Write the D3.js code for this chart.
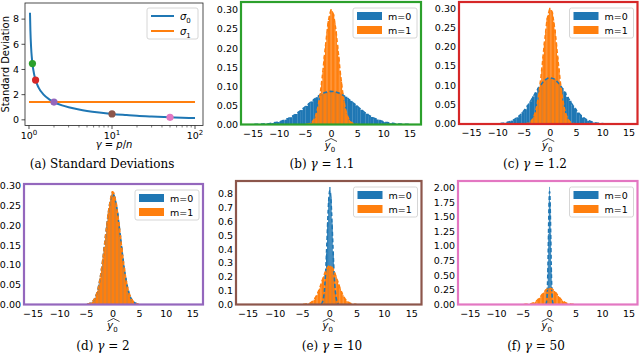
<!DOCTYPE html>
<html>
<head>
<meta charset="utf-8">
<script src="https://cdn.jsdelivr.net/npm/d3@7"></script>
<style>
	body { margin: 0; background: #fff; }
	svg { display: block; }
	text { font-family: "DejaVu Sans", sans-serif; fill: #000; }
	.cap { font-family: "DejaVu Serif", serif; font-size: 12px; }
</style>
</head>
<body>
<svg width="640" height="354"></svg>
<script>
// panel (a): standard deviations vs gamma
const gammaCurve = [1.028, 1.04, 1.06, 1.08, 1.1, 1.15, 1.2, 1.3, 1.5, 1.75, 2, 2.5, 3, 4, 5, 7, 10, 15, 20, 30, 50, 70, 100]
const sigma0Curve = [8.5, 7.07, 5.77, 5.0, 4.47, 3.65, 3.16, 2.58, 2.0, 1.63, 1.41, 1.15, 1.0, 0.82, 0.71, 0.58, 0.47, 0.38, 0.32, 0.26, 0.20, 0.17, 0.14]
const sigma1Range = [1, 100]
const sigma1 = 1.41
const markerGamma = [1.1, 1.2, 2, 10, 50]
const markerSigma = [4.47, 3.16, 1.41, 0.47, 0.20]
const xTicksA = [1, 10, 100]
const yTicksA = [0, 2, 4, 6, 8]

// histogram bins: [first edge, bin width]
const binsWide = [-15, 0.5]
const binsMid = [-11, 0.5]
const binsNarrow = [-5, 0.25]
const binsSpikeE = [-1.7, 0.2]
const binsSpikeF = [-0.75, 0.1]

// (b) gamma = 1.1
const histB0 = [0.0003,0.0005,0.0009,0.0011,0.0016,0.0021,0.0027,0.0038,0.0047,0.0065,0.0079,0.0104,0.0126,0.0162,0.0191,0.0238,0.0275,0.0331,0.0378,0.0441,0.0489,0.0558,0.0606,0.0671,0.0716,0.0772,0.0801,0.0842,0.0851,0.0874,
	0.0863,0.0861,0.0829,0.0811,0.0760,0.0728,0.0661,0.0618,0.0547,0.0502,0.0431,0.0386,0.0322,0.0283,0.0229,0.0197,0.0155,0.0131,0.0099,0.0083,0.0061,0.0049,0.0035,0.0029,0.0019,0.0016,0.0010,0.0007,0.0005,0.0003]
const histB1 = [0.0004,0.0006,0.0014,0.0024,0.0045,0.0071,0.0124,0.0186,0.0297,0.0424,0.0618,0.0829,0.1125,0.1398,0.1785,0.2074,0.2398,0.2712,0.2851,0.3020,
	0.2968,0.2893,0.2664,0.2447,0.2081,0.1779,0.1403,0.1128,0.0826,0.0622,0.0421,0.0296,0.0184,0.0125,0.0069,0.0045,0.0023,0.0014,0.0006,0.0004]
// (c) gamma = 1.2
const histC0 = [0.0003,0.0007,0.0009,0.0018,0.0025,0.0042,0.0058,0.0089,0.0119,0.0174,0.0226,0.0308,0.0381,0.0493,0.0588,0.0716,0.0815,0.0941,0.1018,0.1124,0.1159,0.1208,
	0.1185,0.1172,0.1101,0.1039,0.0925,0.0831,0.0700,0.0601,0.0479,0.0395,0.0297,0.0234,0.0166,0.0127,0.0084,0.0062,0.0038,0.0027,0.0016,0.0011,0.0005,0.0004]
const histC1 = [0.0003,0.0007,0.0012,0.0026,0.0041,0.0076,0.0119,0.0193,0.0289,0.0433,0.0604,0.0846,0.1097,0.1421,0.1752,0.2113,0.2381,0.2736,0.2829,0.3010,
	0.2952,0.2908,0.2651,0.2438,0.2114,0.1741,0.1437,0.1095,0.0851,0.0603,0.0437,0.0284,0.0193,0.0117,0.0075,0.0041,0.0026,0.0012,0.0007,0.0003]
// (d) gamma = 2
const histD0 = [0.0006,0.0014,0.0022,0.0042,0.0064,0.0108,0.0157,0.0245,0.0344,0.0507,0.0672,0.0918,0.1147,0.1462,0.1738,0.2052,0.2297,0.2551,0.2686,0.2812,
	0.2774,0.2712,0.2528,0.2327,0.2026,0.1764,0.1438,0.1172,0.0903,0.0689,0.0494,0.0353,0.0236,0.0162,0.0102,0.0068,0.0039,0.0024,0.0012,0.0007]
const histD1 = [0.0007,0.0012,0.0024,0.0039,0.0068,0.0103,0.0163,0.0238,0.0352,0.0498,0.0685,0.0904,0.1171,0.1441,0.1768,0.2021,0.2334,0.2527,0.2738,0.2871,
	0.2835,0.2689,0.2563,0.2298,0.2051,0.1739,0.1462,0.1149,0.0918,0.0672,0.0507,0.0341,0.0247,0.0157,0.0108,0.0063,0.0041,0.0022,0.0014,0.0006]
// (e) gamma = 10
const histE0 = [0.0028,0.0097,0.0342,0.0861,0.2034,0.3718,0.5967,0.7702,0.8507,0.7811,0.5874,0.3795,0.1968,0.0893,0.0324,0.0104,0.0025]
const histE1 = [0.0006,0.0013,0.0024,0.0038,0.0067,0.0104,0.0161,0.0241,0.0347,0.0503,0.0681,0.0912,0.1158,0.1449,0.1756,0.2036,0.2318,0.2537,0.2719,0.2788,
	0.2802,0.2687,0.2551,0.2304,0.2047,0.1738,0.1459,0.1153,0.0917,0.0676,0.0503,0.0346,0.0242,0.0158,0.0106,0.0065,0.0041,0.0022,0.0013,0.0007]
// (f) gamma = 50
const histF0 = [0.0045,0.0214,0.0893,0.2671,0.6543,1.2078,1.7712,2.0130,1.7584,1.2195,0.6437,0.2748,0.0871,0.0226,0.0042]
const histF1 = [0.0007,0.0012,0.0023,0.0041,0.0065,0.0107,0.0158,0.0244,0.0339,0.0511,0.0674,0.0921,0.1142,0.1457,0.1749,0.2041,0.2306,0.2548,0.2703,0.2812,
	0.2781,0.2706,0.2539,0.2318,0.2033,0.1752,0.1444,0.1167,0.0905,0.0681,0.0497,0.0352,0.0238,0.0163,0.0104,0.0067,0.0039,0.0024,0.0012,0.0006]

const xTicksHist = [-15, -10, -5, 0, 5, 10, 15]
const yTicksSmall = [0, 0.05, 0.10, 0.15, 0.20, 0.25, 0.30]
const yTicksE = [0, 0.1, 0.2, 0.3, 0.4, 0.5, 0.6, 0.7, 0.8]
const yTicksF = [0, 0.25, 0.5, 0.75, 1.0, 1.25, 1.5, 1.75, 2.0]
const legendLabels = ['m=0', 'm=1']

const C0 = '#1f77b4', C1 = '#ff7f0e'
const dotColors = ['#2ca02c', '#d62728', '#9467bd', '#8c564b', '#e377c2']

const svg = d3.select('svg')

// ---------- panel (a) ----------
{
	const L = 25, T = 3, R = 203, B = 125.5
	const x = d3.scaleLog().domain([0.895, 124.8]).range([L, R])
	const y = d3.scaleLinear().domain([-0.45, 9.28]).range([B, T])
	const g = svg.append('g')

	const clip = g.append('clipPath').attr('id', 'clipA')
	clip.append('rect').attr('x', L).attr('y', T).attr('width', R - L).attr('height', B - T)
	const plot = g.append('g').attr('clip-path', 'url(#clipA)')

	plot.append('path')
		.datum(gammaCurve.map((d, i) => [d, sigma0Curve[i]]))
		.attr('fill', 'none').attr('stroke', C0).attr('stroke-width', 2)
		.attr('d', d3.line().x(d => x(d[0])).y(d => y(d[1])).curve(d3.curveMonotoneX))
	plot.append('line')
		.attr('x1', x(sigma1Range[0])).attr('x2', x(sigma1Range[1]))
		.attr('y1', y(sigma1)).attr('y2', y(sigma1))
		.attr('stroke', C1).attr('stroke-width', 2)
	plot.selectAll('circle').data(markerGamma).join('circle')
		.attr('cx', d => x(d)).attr('cy', (d, i) => y(markerSigma[i]))
		.attr('r', 3.6).attr('fill', (d, i) => dotColors[i])

	g.append('rect').attr('x', L).attr('y', T).attr('width', R - L).attr('height', B - T)
		.attr('fill', 'none').attr('stroke', '#222').attr('stroke-width', 0.8)

	// ticks
	const minor = []
	for (const dec of [1, 10]) for (let k = 2; k < 10; k++) minor.push(k * dec)
	g.selectAll('.mn').data(minor).join('line')
		.attr('x1', d => x(d)).attr('x2', d => x(d)).attr('y1', B).attr('y2', B + 2)
		.attr('stroke', '#222').attr('stroke-width', 0.6)
	const xt = g.selectAll('.xt').data(xTicksA).join('g')
		.attr('transform', d => `translate(${x(d)},${B})`)
	xt.append('line').attr('y2', 3.5).attr('stroke', '#222').attr('stroke-width', 0.8)
	const xtl = xt.append('text').attr('y', 13).attr('text-anchor', 'middle').style('font-size', '9.5px')
	xtl.append('tspan').text('10')
	xtl.append('tspan').attr('dy', -4).style('font-size', '7px').text(d => Math.log10(d))

	const yt = g.selectAll('.yt').data(yTicksA).join('g')
		.attr('transform', d => `translate(${L},${y(d)})`)
	yt.append('line').attr('x2', -3.5).attr('stroke', '#222').attr('stroke-width', 0.8)
	yt.append('text').attr('x', -6).attr('dy', '0.35em').attr('text-anchor', 'end')
		.style('font-size', '9.5px').text(d => d)

	g.append('text').attr('transform', `translate(9,${(T + B) / 2}) rotate(-90)`)
		.attr('text-anchor', 'middle').style('font-size', '10px').text('Standard Deviation')
	const xl = g.append('text').attr('x', (L + R) / 2).attr('y', 148).attr('text-anchor', 'middle').style('font-size', '10px')
	xl.append('tspan').style('font-style', 'italic').text('γ')
	xl.append('tspan').text(' = ')
	xl.append('tspan').style('font-style', 'italic').text('p')
	xl.append('tspan').text('/')
	xl.append('tspan').style('font-style', 'italic').text('n')

	// legend
	const lg = g.append('g').attr('transform', `translate(${R - 56},${T + 5})`)
	lg.append('rect').attr('width', 51).attr('height', 31).attr('rx', 2)
		.attr('fill', '#fff').attr('fill-opacity', 0.8).attr('stroke', '#ccc').attr('stroke-width', 0.8)
	;[C0, C1].forEach((c, i) => {
		lg.append('line').attr('x1', 4).attr('x2', 27).attr('y1', 8 + i * 15).attr('y2', 8 + i * 15)
			.attr('stroke', c).attr('stroke-width', 2)
		const t = lg.append('text').attr('x', 33).attr('y', 12 + i * 15).style('font-size', '10px')
		t.append('tspan').style('font-style', 'italic').text('σ')
		t.append('tspan').attr('dy', 2.5).style('font-size', '7px').text(i)
	})

	const cap = g.append('text').attr('class', 'cap').attr('x', 102).attr('y', 168).attr('text-anchor', 'middle')
	cap.text('(a) Standard Deviations')
}

// ---------- histogram panels ----------
const panels = [
	{ key: 'b', frame: [241, 2, 421, 124.5], xd: [-17.3, 17.1], ymax: 0.321, yticks: yTicksSmall, fmt: '.2f', color: dotColors[0], gamma: '1.1',
		capX: 322, capY: 168, labY: 149, series: [[histB0, binsWide], [histB1, binsNarrow]] },
	{ key: 'c', frame: [459, 2, 637.5, 124], xd: [-17.4, 16.6], ymax: 0.316, yticks: yTicksSmall, fmt: '.2f', color: dotColors[1], gamma: '1.2',
		capX: 535, capY: 168, labY: 149, series: [[histC0, binsMid], [histC1, binsNarrow]] },
	{ key: 'd', frame: [24, 184, 203, 304.5], xd: [-16.7, 16.9], ymax: 0.305, yticks: yTicksSmall, fmt: '.2f', color: dotColors[2], gamma: '2',
		capX: 103, capY: 350, labY: 329, series: [[histD0, binsNarrow], [histD1, binsNarrow]] },
	{ key: 'e', frame: [236, 181, 421.5, 304.5], xd: [-17.2, 16.8], ymax: 0.894, yticks: yTicksE, fmt: '.1f', color: dotColors[3], gamma: '10',
		capX: 332, capY: 350, labY: 329, series: [[histE0, binsSpikeE], [histE1, binsNarrow]] },
	{ key: 'f', frame: [458, 181, 637.5, 304.5], xd: [-17.3, 16.6], ymax: 2.114, yticks: yTicksF, fmt: '.2f', color: dotColors[4], gamma: '50',
		capX: 536, capY: 350, labY: 329, series: [[histF0, binsSpikeF], [histF1, binsNarrow]] }
]

panels.forEach(p => {
	const [L, T, R, B] = p.frame
	const x = d3.scaleLinear().domain(p.xd).range([L, R])
	const y = d3.scaleLinear().domain([0, p.ymax]).range([B, T])
	const g = svg.append('g')
	g.append('clipPath').attr('id', 'clip' + p.key)
		.append('rect').attr('x', L).attr('y', T).attr('width', R - L).attr('height', B - T)
	const plot = g.append('g').attr('clip-path', `url(#clip${p.key})`)

	const cols = [C0, C1]
	// bars, m=0 first then m=1 on top
	p.series.forEach(([vals, [x0, w]], si) => {
		plot.append('g').selectAll('rect').data(vals).join('rect')
			.attr('x', (d, i) => x(x0 + i * w))
			.attr('width', (d, i) => x(x0 + (i + 1) * w) - x(x0 + i * w) + 0.15)
			.attr('y', d => y(d))
			.attr('height', d => B - y(d))
			.attr('fill', cols[si])
	})
	// dashed density curves
	const line = d3.line().x(d => x(d[0])).y(d => y(d[1])).curve(d3.curveBasis)
	p.series.forEach(([vals, [x0, w]], si) => {
		const pts = vals.map((v, i) => [x0 + (i + 0.5) * w, v])
		plot.append('path').datum(pts)
			.attr('fill', 'none').attr('stroke', cols[si]).attr('stroke-width', 1.6)
			.attr('stroke-dasharray', '4,2.5').attr('d', line)
	})

	g.append('rect').attr('x', L).attr('y', T).attr('width', R - L).attr('height', B - T)
		.attr('fill', 'none').attr('stroke', p.color).attr('stroke-width', 2.2)

	g.selectAll('.xt').data(xTicksHist).join('text')
		.attr('x', d => x(d)).attr('y', B + 12).attr('text-anchor', 'middle')
		.style('font-size', '9.5px').text(d => d3.format('')(d).replace('-', '−'))
	g.selectAll('.yt').data(p.yticks).join('text')
		.attr('x', L - 3).attr('y', d => y(d)).attr('dy', '0.35em').attr('text-anchor', 'end')
		.style('font-size', '9.5px').text(d => d3.format(p.fmt)(d))

	// x label: y-hat with subscript 0
	const cx = (L + R) / 2
	const lab = g.append('text').attr('x', cx - 1).attr('y', p.labY).attr('text-anchor', 'middle').style('font-size', '10px')
	lab.append('tspan').style('font-style', 'italic').text('y')
	lab.append('tspan').attr('dy', 2.5).style('font-size', '7px').text('0')
	g.append('path')
		.attr('d', `M${cx - 6},${p.labY - 7.5} L${cx},${p.labY - 10.5} L${cx + 6},${p.labY - 7.5}`)
		.attr('fill', 'none').attr('stroke', '#000').attr('stroke-width', 0.7)

	// legend
	const lg = g.append('g').attr('transform', `translate(${R - 68},${T + 6})`)
	lg.append('rect').attr('width', 64).attr('height', 30).attr('rx', 2)
		.attr('fill', '#fff').attr('fill-opacity', 0.8).attr('stroke', '#ccc').attr('stroke-width', 0.8)
	legendLabels.forEach((t, i) => {
		lg.append('rect').attr('x', 4).attr('y', 4 + i * 14).attr('width', 25).attr('height', 8).attr('fill', cols[i])
		lg.append('text').attr('x', 35).attr('y', 11.5 + i * 14).style('font-size', '9.5px').text(t)
	})

	const cap = g.append('text').attr('class', 'cap').attr('x', p.capX).attr('y', p.capY).attr('text-anchor', 'middle')
	cap.append('tspan').text(`(${p.key}) `)
	cap.append('tspan').style('font-style', 'italic').text('γ')
	cap.append('tspan').text(' = ' + p.gamma)
})
</script>
</body>
</html>
